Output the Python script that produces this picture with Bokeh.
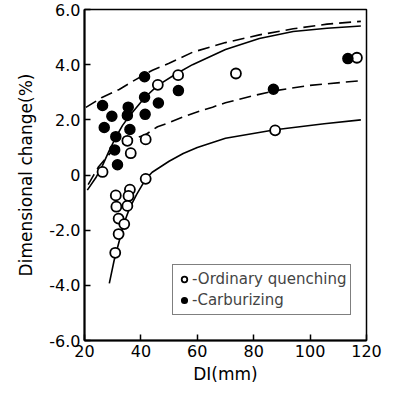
from bokeh.plotting import figure
from bokeh.models import FixedTicker, Legend, LegendItem, Range1d
from bokeh.embed import file_html
from bokeh.resources import INLINE

# Ordinary quenching (open circles)
oq_x = [26.4, 35.2, 36.4, 41.7, 46.0, 53.2, 41.7, 36.1, 35.6, 31.1, 31.3, 35.2,
        32.1, 34.1, 32.1, 30.9, 73.7, 87.6, 116.6]
oq_y = [0.11, 1.24, 0.79, 1.29, 3.27, 3.62, -0.14, -0.53, -0.76, -0.74, -1.15, -1.12,
        -1.58, -1.78, -2.14, -2.82, 3.68, 1.62, 4.25]

# Carburizing (filled circles)
cb_x = [26.4, 27.0, 29.7, 31.1, 30.7, 31.7, 35.5, 35.2, 36.1, 41.3, 41.3, 41.5,
        46.2, 53.3, 87.0, 113.4]
cb_y = [2.52, 1.72, 2.13, 1.39, 0.91, 0.37, 2.46, 2.16, 1.65, 3.56, 2.82, 2.20,
        2.61, 3.06, 3.11, 4.22]

# Curves
upper_dash_x = [20.5, 26, 32.3, 38, 44.1, 50, 58.3, 70, 82, 94, 106, 118]
upper_dash_y = [2.45, 2.8, 3.1, 3.45, 3.8, 4.05, 4.45, 4.8, 5.08, 5.3, 5.47, 5.57]

upper_solid_x = [21, 24, 26.4, 28.6, 31, 33.5, 36, 41.3, 46, 52.4, 58.3, 70, 82, 94, 106, 118]
upper_solid_y = [-0.55, -0.1, 0.35, 0.85, 1.35, 1.8, 2.15, 2.8, 3.25, 3.66, 4.0, 4.55, 4.95, 5.2, 5.32, 5.4]

lower_dash_x = [21.3, 23, 25, 27.5, 30, 33, 35.2, 41.5, 45.9, 50, 54.8, 58.9, 65.4, 70, 80, 87.8, 100, 118]
lower_dash_y = [-0.35, -0.05, 0.3, 0.6, 0.9, 1.1, 1.25, 1.45, 1.75, 1.9, 2.1, 2.25, 2.46, 2.62, 2.88, 3.06, 3.25, 3.42]

lower_solid_x = [28.8, 30.5, 32.3, 34, 36, 38.5, 41.7, 44, 50, 55, 60, 70, 87.6, 105, 118]
lower_solid_y = [-3.93, -3.1, -2.4, -1.75, -1.2, -0.7, -0.15, 0.1, 0.5, 0.78, 1.0, 1.33, 1.64, 1.86, 2.0]

x_ticks = [20, 40, 60, 80, 100, 120]
y_ticks = [-6, -4, -2, 0, 2, 4, 6]
y_tick_labels = ["-6.0", "-4.0", "-2.0", "0", "2.0", "4.0", "6.0"]

FONT = "DejaVu Sans"

p = figure(output_backend="svg", toolbar_location=None,
           frame_width=282, frame_height=331,
           min_border_left=84, min_border_right=16, min_border_top=9, min_border_bottom=45,
           x_range=Range1d(20, 120), y_range=Range1d(-6, 6))
p.background_fill_color = "white"
p.border_fill_color = "white"
p.grid.visible = False
p.outline_line_color = "black"
p.outline_line_width = 1.5

p.xaxis.ticker = FixedTicker(ticks=x_ticks)
p.yaxis.ticker = FixedTicker(ticks=y_ticks)
p.yaxis.major_label_overrides = {t: l for t, l in zip(y_ticks, y_tick_labels)}
for ax in (p.xaxis, p.yaxis):
    ax.axis_line_width = 2
    ax.axis_line_color = "black"
    ax.major_tick_in = 6
    ax.major_tick_out = 0
    ax.major_tick_line_width = 1.5
    ax.minor_tick_line_color = None
    ax.major_label_text_font = FONT
    ax.major_label_text_font_size = "16px"
    ax.major_label_text_color = "black"
    ax.axis_label_text_font = FONT
    ax.axis_label_text_font_size = "17px"
    ax.axis_label_text_font_style = "normal"
    ax.axis_label_text_color = "black"
p.xaxis.major_label_standoff = 4
p.yaxis.major_label_standoff = 4
p.xaxis.axis_label = "DI(mm)"
p.yaxis.axis_label = "Dimensional change(%)"
p.xaxis.axis_label_standoff = 4
p.yaxis.axis_label_standoff = 10

p.line(upper_dash_x, upper_dash_y, line_color="black", line_width=1.6, line_dash="12 6")
p.line(upper_solid_x, upper_solid_y, line_color="black", line_width=1.6)
p.line(lower_dash_x, lower_dash_y, line_color="black", line_width=1.6, line_dash="12 6")
p.line(lower_solid_x, lower_solid_y, line_color="black", line_width=1.6)

r_oq = p.scatter(oq_x, oq_y, size=10, marker="circle", fill_color="white",
                 line_color="black", line_width=1.8)
r_cb = p.scatter(cb_x, cb_y, size=10, marker="circle", fill_color="black",
                 line_color="black", line_width=1.5)

legend = Legend(items=[LegendItem(label="-Ordinary quenching", renderers=[r_oq]),
                       LegendItem(label="-Carburizing", renderers=[r_cb])],
                location=(88, 25), padding=4, spacing=1, label_height=20, glyph_height=20,
                glyph_width=14, label_standoff=1, margin=0,
                label_text_font=FONT, label_text_font_size="15px",
                border_line_color="black", border_line_width=1.5,
                background_fill_color="white", background_fill_alpha=1.0)
p.add_layout(legend, "center")

open("out.html", "w").write(file_html(p, INLINE))
